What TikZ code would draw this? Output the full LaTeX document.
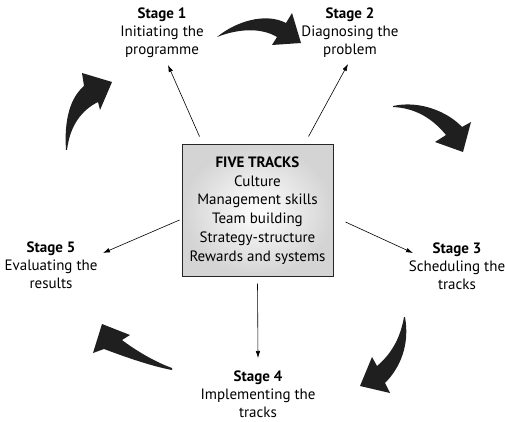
\documentclass[tikz,border=0pt]{standalone}
\usepackage{fontspec}
\setmainfont{PT Sans}
\usetikzlibrary{arrows.meta}

\begin{document}
\begin{tikzpicture}[
  x=1pt, y=-1pt,
  stage/.style={align=center, inner sep=0pt, font=\fontsize{15}{18}\selectfont},
  tracks/.style={draw=black!85, line width=1pt, inner color=white, outer color=black!17,
                 minimum width=151pt, minimum height=131pt, align=center,
                 font=\fontsize{15}{18.7}\selectfont},
  link/.style={-{Latex[length=7pt,width=4.5pt]}, line width=0.6pt},
  bigarrow/.style={fill=black!88, draw=none},
]
\useasboundingbox (0,0) rectangle (505,422);

% Centre box
\node[tracks] (box) at (257.5,210.5) {\textbf{FIVE TRACKS}\\Culture\\Management skills\\Team building\\Strategy-structure\\Rewards and systems};

% Stages around it
\node[stage] (s1) at (162,33)  {\textbf{Stage 1}\\Initiating the\\programme};
\node[stage] (s2) at (350,33)  {\textbf{Stage 2}\\Diagnosing the\\problem};
\node[stage] (s3) at (457,266) {\textbf{Stage 3}\\Scheduling the\\tracks};
\node[stage] (s4) at (258,394) {\textbf{Stage 4}\\Implementing the\\tracks};
\node[stage] (s5) at (51,265)  {\textbf{Stage 5}\\Evaluating the\\results};

% Thin arrows from the box out to each stage
\draw[link] ([xshift=18pt,yshift=8pt]box.north west) -- ([xshift=6pt,yshift=-32pt]s1.center);
\draw[link] ([xshift=-25pt,yshift=8pt]box.north east) -- ([xshift=-2pt,yshift=-31pt]s2.center);
\draw[link] ([xshift=12pt,yshift=-11.5pt]box.east) -- ([xshift=-44pt,yshift=13pt]s3.center);
\draw[link] ([yshift=-7pt]box.south) -- ([yshift=36pt]s4.center);
\draw[link] ([xshift=-2pt,yshift=-9.5pt]box.west) -- ([xshift=52pt,yshift=12pt]s5.center);

% Big curved arrows of the cycle
% 1 -> 2
\fill[bigarrow] (217,37) .. controls (235,22) and (265,12) .. (286,23) -- (292,13) -- (301,43)
  -- (272,45) -- (277,37) .. controls (262,28) and (240,28) .. (217,37) -- cycle;
% 2 -> 3
\fill[bigarrow] (393,106) .. controls (420,100) and (448,112) .. (462,127) -- (471,122) -- (463,152)
  -- (435,142) -- (446,135) .. controls (432,118) and (415,108) .. (393,107) -- cycle;
% 3 -> 4
\fill[bigarrow] (405,317) .. controls (410,345) and (400,368) .. (385,383) -- (390,393) -- (360,386)
  -- (372,357) -- (377,366) .. controls (390,355) and (400,340) .. (404,317) -- cycle;
% 4 -> 5
\fill[bigarrow] (172,370) .. controls (150,366) and (120,355) .. (104,349) -- (93,353) -- (102,324)
  -- (130,335) -- (122,340) .. controls (135,350) and (155,362) .. (172,368) -- cycle;
% 5 -> 1
\fill[bigarrow] (66,150) .. controls (64,120) and (70,98) .. (84,86) -- (82,73) -- (112,82)
  -- (100,110) -- (98,102) .. controls (82,110) and (70,125) .. (67,150) -- cycle;

\end{tikzpicture}
\end{document}
